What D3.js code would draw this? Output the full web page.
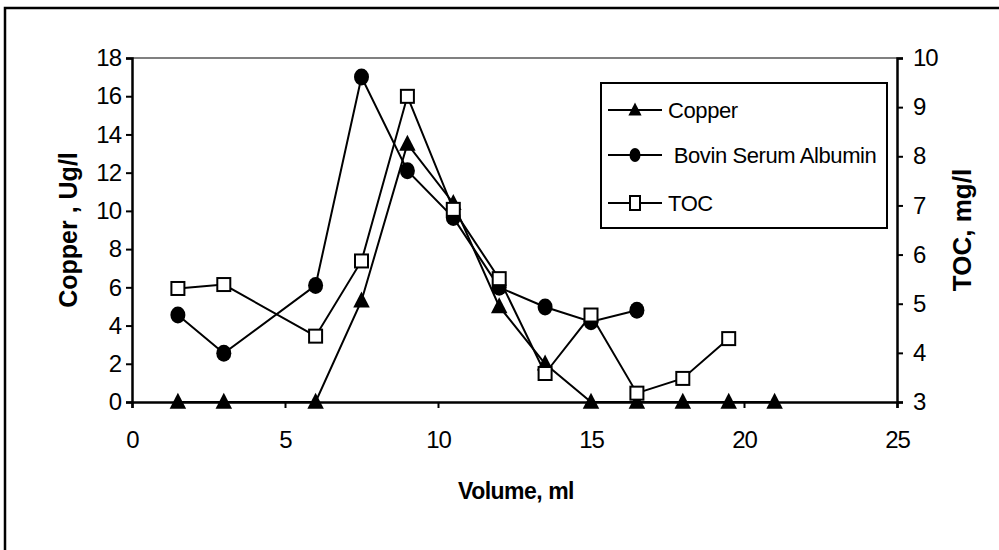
<!DOCTYPE html>
<html>
<head>
<meta charset="utf-8">
<script src="https://cdn.jsdelivr.net/npm/d3@7"></script>
<style>
  body { margin: 0; background: #fff; }
  svg { display: block; font-family: "Liberation Sans", Arial, sans-serif; }
</style>
</head>
<body>
<div id="chart"></div>
<script>
// volumes (ml)
const volume = [1.5, 3, 6, 7.5, 9, 10.5, 12, 13.5, 15, 16.5, 18, 19.5, 21];
// copper, ug/l (left axis)
const copper = [0, 0, 0, 5.3, 13.5, 10.4, 5, 2, 0, 0, 0, 0, 0];
// bovin serum albumin (left axis), only first 10 volumes
const bsa = [4.55, 2.55, 6.1, 17, 12.1, 9.65, 6, 4.97, 4.2, 4.8];
// TOC, mg/l (right axis), first 12 volumes
const toc = [5.31, 5.39, 4.34, 5.87, 9.22, 6.92, 5.51, 3.58, 4.77, 3.18, 3.48, 4.29];

const xTicks = [0, 5, 10, 15, 20, 25];
const leftTicks = [0, 2, 4, 6, 8, 10, 12, 14, 16, 18];
const rightTicks = [3, 4, 5, 6, 7, 8, 9, 10];

const W = 999, H = 550;
const m = { left: 132, right: 897, top: 58, bottom: 402 };

const svg = d3.select("#chart").append("svg")
  .attr("width", W).attr("height", H);

// outer frame (runs off the right and bottom edges)
svg.append("rect")
  .attr("x", 5).attr("y", 8).attr("width", 1010).attr("height", 560)
  .attr("fill", "none").attr("stroke", "#000").attr("stroke-width", 2.5);

const x = d3.scaleLinear().domain([0, 25]).range([m.left, m.right]);
const yL = d3.scaleLinear().domain([0, 18]).range([m.bottom, m.top]);
const yR = d3.scaleLinear().domain([3, 10]).range([m.bottom, m.top]);

// gray line along the top of the plot area
svg.append("line")
  .attr("x1", m.left).attr("x2", m.right)
  .attr("y1", m.top).attr("y2", m.top)
  .attr("stroke", "#808080").attr("stroke-width", 2);

function styleAxis(g) {
  g.select(".domain").attr("stroke", "#000").attr("stroke-width", 2.5);
  g.selectAll(".tick line").attr("stroke", "#000").attr("stroke-width", 2);
  g.selectAll(".tick text").attr("fill", "#000")
    .style("font-size", "24px").style("letter-spacing", "-1px");
}

svg.append("g")
  .attr("transform", `translate(0,${m.bottom})`)
  .call(d3.axisBottom(x).tickValues(xTicks).tickFormat(d3.format("d"))
    .tickSize(6).tickPadding(23))
  .call(styleAxis);

svg.append("g")
  .attr("transform", `translate(${m.left},0)`)
  .call(d3.axisLeft(yL).tickValues(leftTicks).tickFormat(d3.format("d"))
    .tickSize(6).tickPadding(5))
  .call(styleAxis);

svg.append("g")
  .attr("transform", `translate(${m.right},0)`)
  .call(d3.axisRight(yR).tickValues(rightTicks).tickFormat(d3.format("d"))
    .tickSize(6).tickPadding(10))
  .call(styleAxis);

// axis titles
svg.append("text")
  .attr("transform", `translate(68,${(m.top + m.bottom) / 2}) rotate(-90)`)
  .attr("text-anchor", "middle").attr("dy", "0.35em")
  .style("font-size", "25px").style("font-weight", "bold")
  .text("Copper , Ug/l");

svg.append("text")
  .attr("transform", `translate(962,${(m.top + m.bottom) / 2}) rotate(-90)`)
  .attr("text-anchor", "middle").attr("dy", "0.35em")
  .style("font-size", "26px").style("font-weight", "bold")
  .text("TOC, mg/l");

svg.append("text")
  .attr("x", 516).attr("y", 499)
  .attr("text-anchor", "middle")
  .style("font-size", "23px").style("font-weight", "bold")
  .style("letter-spacing", "-0.5px")
  .text("Volume, ml");

// marker helpers
const tri = (s) => `M0,${-s * 0.62}L${s * 0.55},${s * 0.45}L${-s * 0.55},${s * 0.45}Z`;

function drawSeries(vals, scale) {
  const pts = vals.map((v, i) => [x(volume[i]), scale(v)]);
  svg.append("path")
    .attr("d", d3.line()(pts))
    .attr("fill", "none").attr("stroke", "#000").attr("stroke-width", 2);
  return svg.append("g").selectAll("g").data(pts).join("g")
    .attr("transform", d => `translate(${d[0]},${d[1]})`);
}

drawSeries(copper, yL).append("path")
  .attr("d", tri(15)).attr("fill", "#000");

drawSeries(bsa, yL).append("ellipse")
  .attr("rx", 7.5).attr("ry", 8.5).attr("fill", "#000");

drawSeries(toc, yR).append("rect")
  .attr("x", -6.5).attr("y", -6.5).attr("width", 13).attr("height", 13)
  .attr("fill", "#fff").attr("stroke", "#000").attr("stroke-width", 2);

// legend
const lg = svg.append("g");
lg.append("rect")
  .attr("x", 601).attr("y", 83).attr("width", 286).attr("height", 145)
  .attr("fill", "#fff").attr("stroke", "#000").attr("stroke-width", 2);

const legendItems = ["Copper", " Bovin Serum Albumin", "TOC"];
const legendY = [110, 155, 203];
legendItems.forEach((name, i) => {
  const yy = legendY[i];
  lg.append("line")
    .attr("x1", 608).attr("x2", 662).attr("y1", yy).attr("y2", yy)
    .attr("stroke", "#000").attr("stroke-width", 2);
  const g = lg.append("g").attr("transform", `translate(635,${yy})`);
  if (i === 0) g.append("path").attr("d", tri(12)).attr("fill", "#000");
  if (i === 1) g.append("ellipse").attr("rx", 5.5).attr("ry", 7).attr("fill", "#000");
  if (i === 2) g.append("rect").attr("x", -5).attr("y", -7).attr("width", 10).attr("height", 14)
    .attr("fill", "#fff").attr("stroke", "#000").attr("stroke-width", 2);
  lg.append("text")
    .attr("x", 668).attr("y", yy).attr("dy", "0.36em")
    .attr("xml:space", "preserve")
    .style("white-space", "pre")
    .style("font-size", "22px").style("letter-spacing", "-0.4px")
    .text(name);
});
</script>
</body>
</html>
